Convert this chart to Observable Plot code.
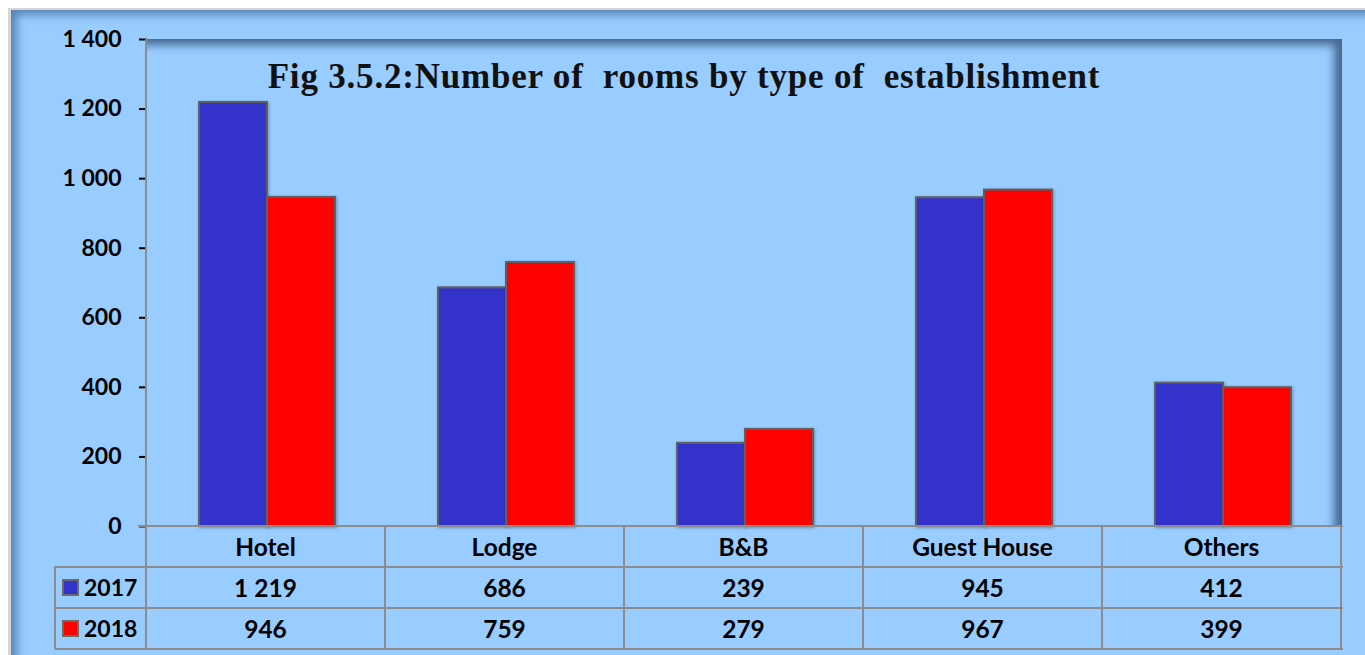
<!DOCTYPE html>
<html>
<head>
<meta charset="utf-8">
<script src="https://cdn.jsdelivr.net/npm/d3@7"></script>
<script src="https://cdn.jsdelivr.net/npm/@observablehq/plot@0.6"></script>
<style>
  html, body { margin: 0; padding: 0; background: #ffffff; }
  #wrap { position: relative; width: 1365px; height: 655px; overflow: hidden; font-family: Lato, "Open Sans", sans-serif; }
  #outer { position: absolute; left: 8px; top: 8px; width: 1370px; height: 660px; background: #99ccff;
           border-left: 3px solid #d6d6d6; border-top: 2px solid #d6d6d6;
           box-shadow: inset 9px 8px 9px -3px rgba(40,75,125,0.55); }
  #frame { position: absolute; left: 146px; top: 39px; width: 1196px; height: 487px;
           box-shadow: inset -12px 10px 9px -4px rgba(50,80,120,0.8); }
  #chart { position: absolute; left: 0; top: 0; }
  #title { position: absolute; left: 0; width: 1368px; top: 57px; text-align: center; white-space: pre;
           font-family: "Liberation Serif", "DejaVu Serif", serif; font-weight: bold; font-size: 35px; letter-spacing: 0.8px; color: #111; }
  .ln { position: absolute; background: #8c8c8c; }
  .cell { position: absolute; text-align: center; font-weight: bold; font-size: 24.5px; color: #000; line-height: 41px; height: 41px; }
  .sw { position: absolute; width: 13px; height: 13px; border: 2px solid #6a6a6a; }
  g[aria-label="y-axis tick"] { stroke: #8c8c8c; stroke-width: 2px; }
  g[aria-label="bar"] rect { filter: drop-shadow(1.5px 1.5px 1.5px rgba(0,0,0,0.3)); }
</style>
</head>
<body>
<div id="wrap">
  <div id="outer"></div>
  <div id="frame"></div>
  <div id="chart"></div>
  <div id="title">Fig 3.5.2:Number of  rooms by type of  establishment</div>
</div>
<script>
const categories = ["Hotel", "Lodge", "B&B", "Guest House", "Others"];
const years = ["2017", "2018"];
const values2017 = [1219, 686, 239, 945, 412];
const values2018 = [946, 759, 279, 967, 399];
const yTicks = [0, 200, 400, 600, 800, 1000, 1200, 1400];
const colors = ["#3333cc", "#ff0000"];

const series = {"2017": values2017, "2018": values2018};
const data = categories.flatMap((c, i) => years.map(y => ({category: c, year: y, value: series[y][i]})));

const fmt = v => d3.format(",")(v).replace(/,/g, " ");

const chart = Plot.plot({
  width: 1365,
  height: 655,
  marginLeft: 146,
  marginRight: 23,
  marginTop: 39,
  marginBottom: 129,
  style: {background: "transparent", fontFamily: "Lato, 'Open Sans', sans-serif", fontSize: "23px", fontWeight: "bold", color: "#000", overflow: "visible"},
  fx: {domain: categories, padding: 0, axis: null},
  x: {domain: years, paddingInner: 0, paddingOuter: 0.745, axis: null},
  y: {domain: [0, 1400], ticks: yTicks, tickFormat: fmt, tickSize: 8, tickPadding: 18, label: null},
  color: {domain: years, range: colors},
  marks: [
    Plot.barY(data, {fx: "category", x: "year", y: "value", fill: "year", stroke: "#5f5f5f", strokeWidth: 2})
  ]
});
document.getElementById("chart").appendChild(chart);

// data table below the axis
const wrap = document.getElementById("wrap");
const fx = chart.scale("fx");
const bw = fx.bandwidth;
const left0 = 146, right0 = 1342, tableLeft = 55;
const rowsY = [526, 567, 608, 649];
function line(x, y, w, h) {
  const d = document.createElement("div");
  d.className = "ln";
  Object.assign(d.style, {left: x + "px", top: y + "px", width: w + "px", height: h + "px"});
  wrap.appendChild(d);
}
function cell(text, x, y, w) {
  const d = document.createElement("div");
  d.className = "cell";
  d.textContent = text;
  Object.assign(d.style, {left: x + "px", top: y + "px", width: w + "px"});
  wrap.appendChild(d);
  return d;
}
line(left0 - 8, rowsY[0] - 1, right0 - left0 + 9, 2);
line(tableLeft, rowsY[1] - 1, right0 - tableLeft + 1, 2);
line(tableLeft, rowsY[2] - 1, right0 - tableLeft + 1, 2);
line(tableLeft, rowsY[3] - 1, right0 - tableLeft + 1, 2);
line(left0 - 1, 39, 2, rowsY[3] - 39);
line(tableLeft - 1, rowsY[1] - 1, 2, rowsY[3] - rowsY[1] + 1);
categories.forEach((c, i) => {
  const x0 = left0 + fx.apply(c) - fx.apply(categories[0]);
  line(x0 + bw - 1, rowsY[0] - 1, 2, rowsY[3] - rowsY[0] + 1);
  cell(c, x0, rowsY[0] + 0, bw);
  cell(fmt(values2017[i]), x0, rowsY[1] + 0, bw);
  cell(fmt(values2018[i]), x0, rowsY[2] + 0, bw);
});
years.forEach((y, j) => {
  const s = document.createElement("div");
  s.className = "sw";
  Object.assign(s.style, {left: "62px", top: (rowsY[j + 1] + 12) + "px", background: colors[j]});
  wrap.appendChild(s);
  const t = cell(y, 84, rowsY[j + 1], 60);
  t.style.textAlign = "left";
  t.style.fontSize = "23px";
});
</script>
</body>
</html>
